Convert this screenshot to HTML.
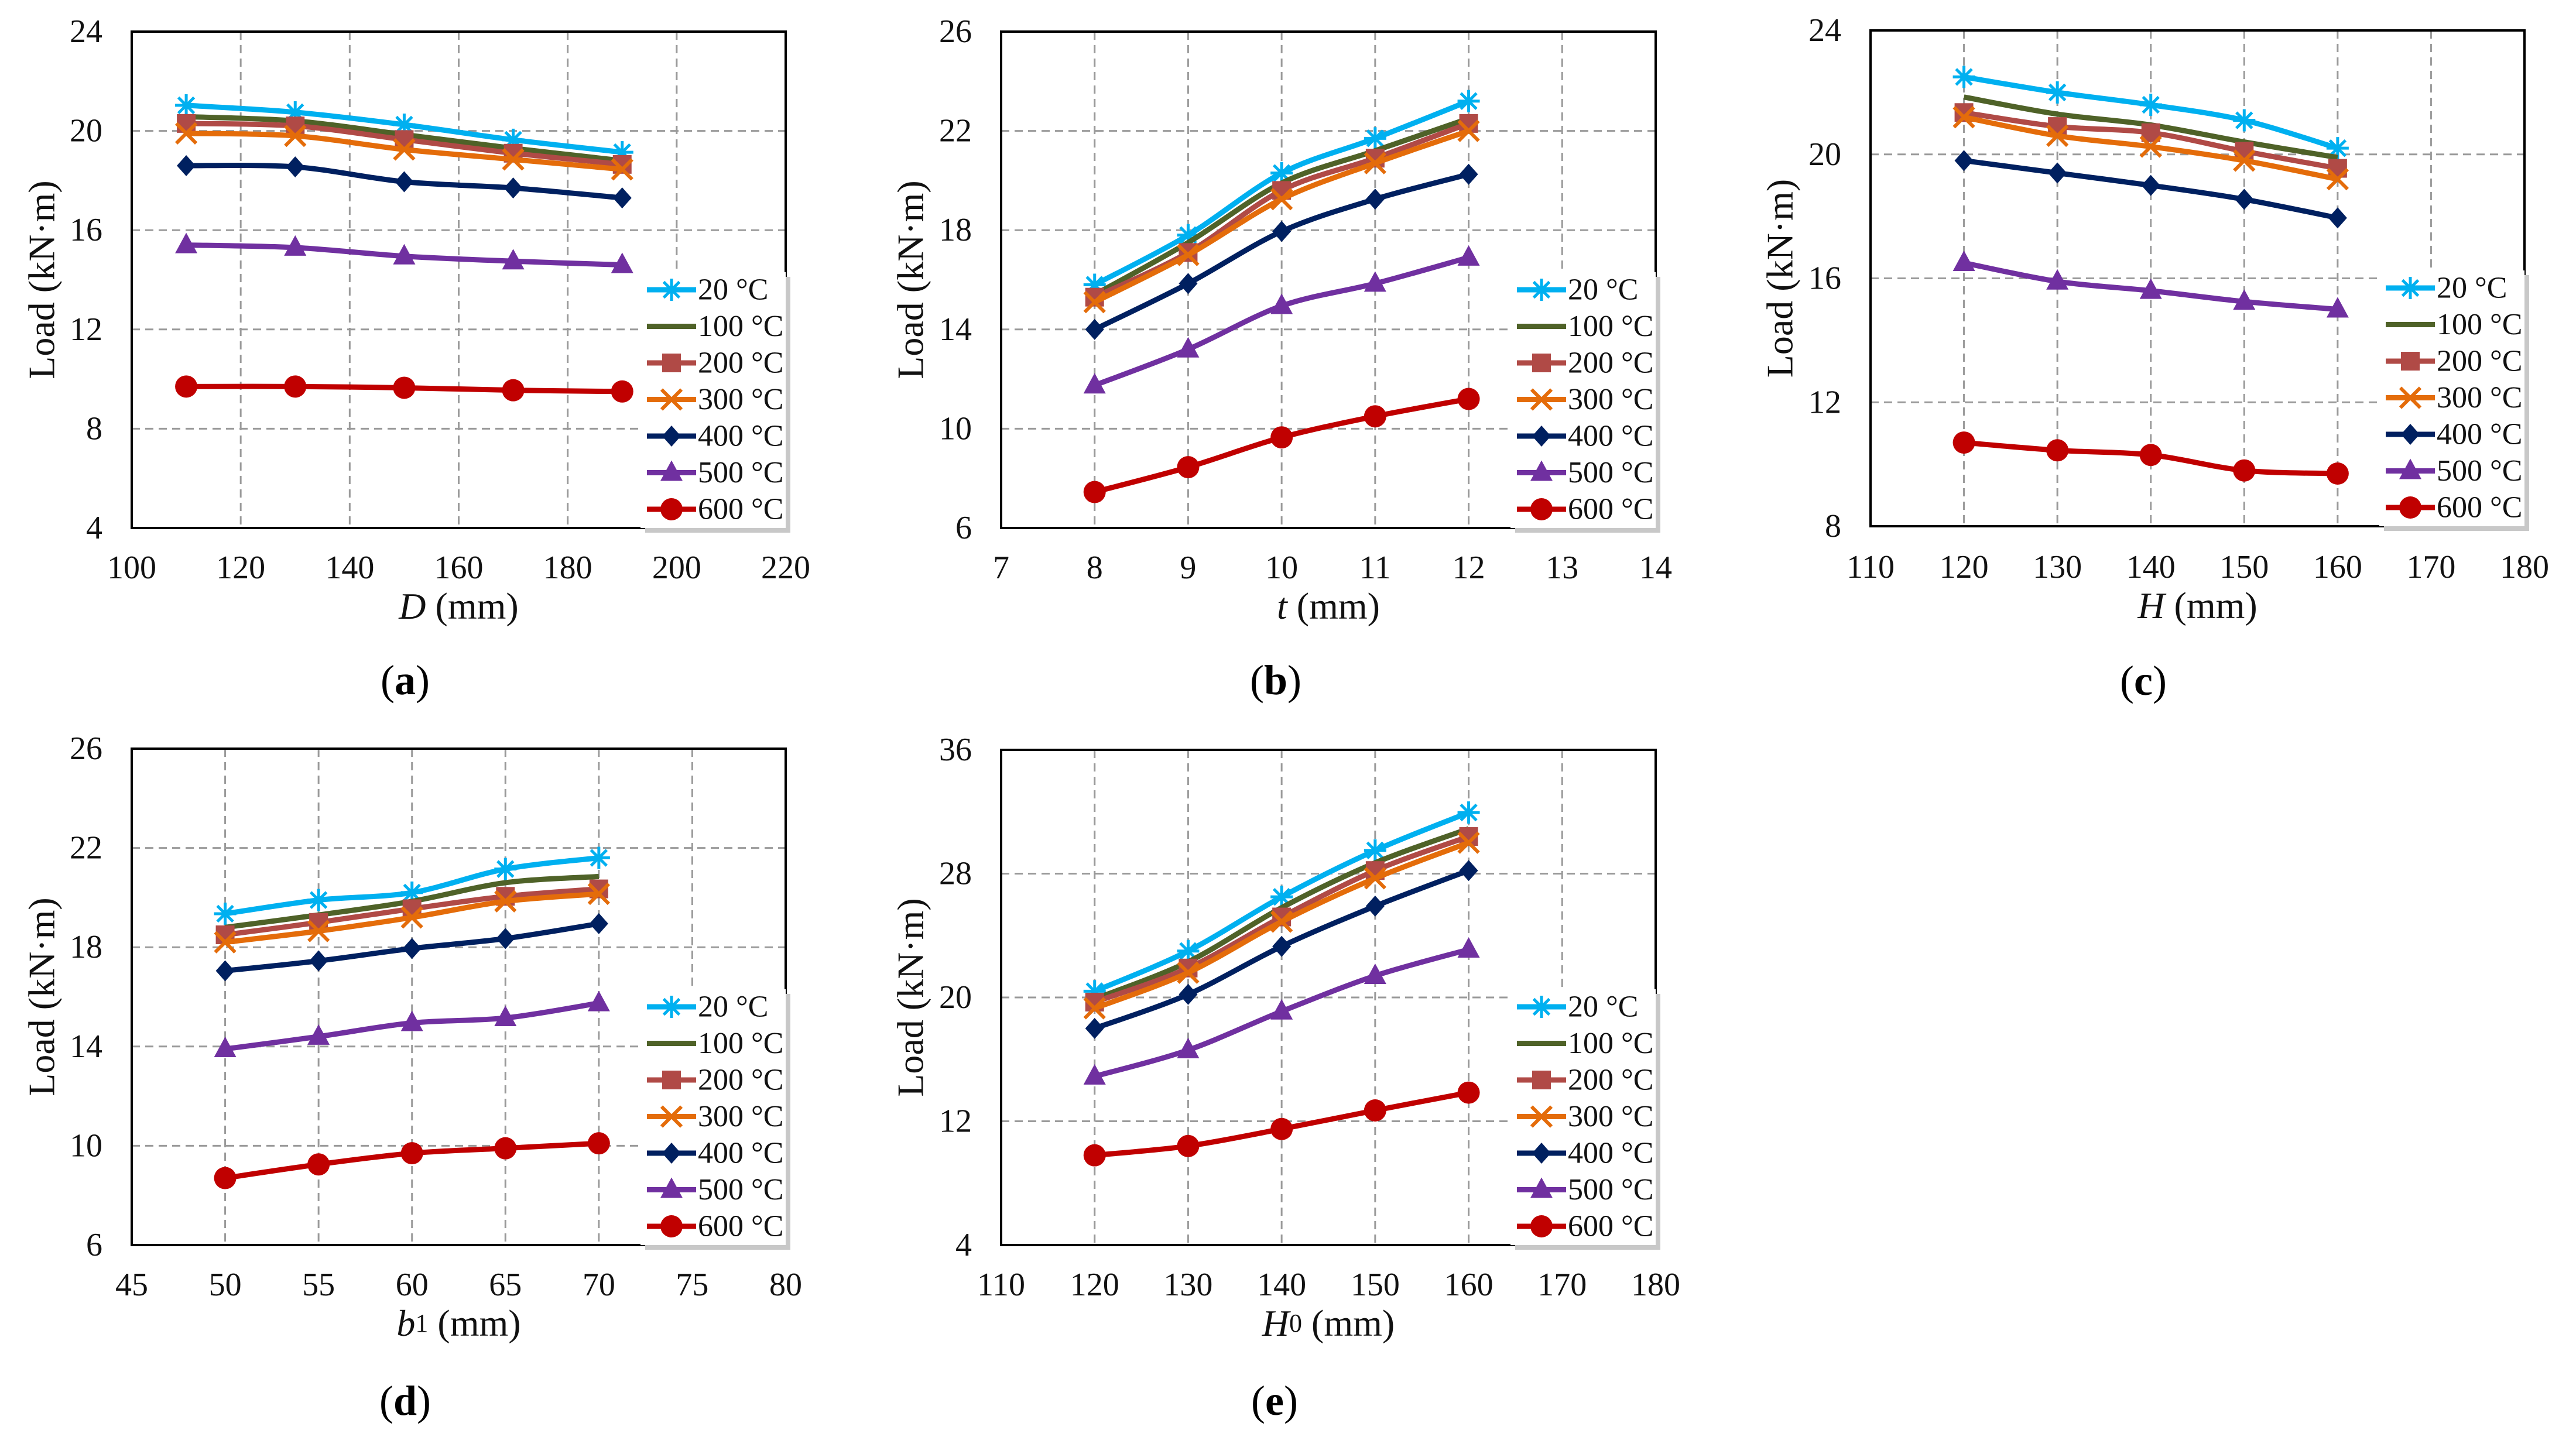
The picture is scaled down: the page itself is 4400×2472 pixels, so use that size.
<!DOCTYPE html>
<html><head><meta charset="utf-8"><style>
html,body{margin:0;padding:0;background:#fff}
svg{display:block;font-family:"Liberation Serif",serif}
</style></head><body>
<svg id="fig" width="4400" height="2472" viewBox="0 0 4400 2472" xmlns="http://www.w3.org/2000/svg"></svg>
<script>
const seriesNames = ["20 °C","100 °C","200 °C","300 °C","400 °C","500 °C","600 °C"];
const seriesColors = ["#00B0F0","#4F6228","#B04A46","#E46C0A","#002060","#7030A0","#C00000"];
const seriesMarkers = ["star","none","square","x","diamond","triangle","circle"];

const aX = [110,130,150,170,190];
const aTicksX = [100,120,140,160,180,200,220];
const aTicksY = [4,8,12,16,20,24];
const a20 = [21.03,20.75,20.25,19.64,19.14];
const a100 = [20.57,20.4,19.85,19.3,18.8];
const a200 = [20.3,20.2,19.65,19.1,18.65];
const a300 = [19.9,19.8,19.25,18.85,18.45];
const a400 = [18.6,18.55,17.95,17.7,17.3];
const a500 = [15.4,15.3,14.95,14.75,14.6];
const a600 = [9.7,9.7,9.65,9.55,9.5];

const bX = [8,9,10,11,12];
const bTicksX = [7,8,9,10,11,12,13,14];
const bTicksY = [6,10,14,18,22,26];
const b20 = [15.8,17.8,20.3,21.7,23.2];
const b100 = [15.4,17.5,19.9,21.2,22.5];
const b200 = [15.3,17.1,19.6,20.9,22.3];
const b300 = [15.1,17.0,19.25,20.7,22.0];
const b400 = [14.0,15.85,17.95,19.25,20.25];
const b500 = [11.75,13.2,14.95,15.85,16.9];
const b600 = [7.45,8.45,9.65,10.5,11.2];

const cX = [120,130,140,150,160];
const cTicksX = [110,120,130,140,150,160,170,180];
const cTicksY = [8,12,16,20,24];
const c20 = [22.5,22.0,21.6,21.1,20.2];
const c100 = [21.85,21.3,20.95,20.4,19.9];
const c200 = [21.35,20.9,20.7,20.1,19.55];
const c300 = [21.2,20.6,20.25,19.8,19.2];
const c400 = [19.8,19.4,19.0,18.55,17.95];
const c500 = [16.5,15.9,15.6,15.25,15.0];
const c600 = [10.7,10.45,10.3,9.8,9.7];

const dX = [50,55,60,65,70];
const dTicksX = [45,50,55,60,65,70,75,80];
const dTicksY = [6,10,14,18,22,26];
const d20 = [19.35,19.9,20.2,21.15,21.6];
const d100 = [18.8,19.3,19.85,20.6,20.85];
const d200 = [18.5,19.0,19.55,20.05,20.35];
const d300 = [18.2,18.65,19.2,19.85,20.15];
const d400 = [17.05,17.45,17.95,18.35,18.95];
const d500 = [13.9,14.4,14.95,15.15,15.75];
const d600 = [8.7,9.25,9.7,9.9,10.1];

const eX = [120,130,140,150,160];
const eTicksX = [110,120,130,140,150,160,170,180];
const eTicksY = [4,12,20,28,36];
const e20 = [20.4,23.0,26.5,29.5,31.95];
const e100 = [19.9,22.3,25.8,28.7,30.9];
const e200 = [19.7,21.9,25.2,28.2,30.4];
const e300 = [19.3,21.6,24.9,27.7,30.0];
const e400 = [18.0,20.2,23.3,25.9,28.2];
const e500 = [14.9,16.6,19.1,21.4,23.1];
const e600 = [9.8,10.4,11.5,12.7,13.85];

const NS="http://www.w3.org/2000/svg";
const svg=document.getElementById('fig');
function mk(tag,attrs,parent){const e=document.createElementNS(NS,tag);for(const k in attrs)e.setAttribute(k,attrs[k]);(parent||svg).appendChild(e);return e;}

function marker(g,type,x,y,col){
  let m=null;
  if(type==="star"){
    m=mk('g',{stroke:col,'stroke-width':5},g);
    for(let i=0;i<4;i++){const a=i*Math.PI/4,r=19;mk('line',{x1:x-r*Math.cos(a),y1:y-r*Math.sin(a),x2:x+r*Math.cos(a),y2:y+r*Math.sin(a)},m);}
  }else if(type==="square"){m=mk('rect',{x:x-16,y:y-16,width:32,height:32,fill:col},g);}
  else if(type==="x"){m=mk('g',{stroke:col,'stroke-width':6},g);
    mk('line',{x1:x-17,y1:y-17,x2:x+17,y2:y+17},m);mk('line',{x1:x-17,y1:y+17,x2:x+17,y2:y-17},m);}
  else if(type==="diamond"){m=mk('polygon',{points:`${x},${y-18} ${x+16},${y} ${x},${y+18} ${x-16},${y}`,fill:col},g);}
  else if(type==="triangle"){m=mk('polygon',{points:`${x},${y-21} ${x+19},${y+14} ${x-19},${y+14}`,fill:col},g);}
  else if(type==="circle"){m=mk('circle',{cx:x,cy:y,r:19,fill:col},g);}
  if(m){
  }
}

function smoothPath(pts){
  let d=`M${pts[0][0]},${pts[0][1]}`;
  for(let i=0;i<pts.length-1;i++){
    const p0=pts[Math.max(0,i-1)],p1=pts[i],p2=pts[i+1],p3=pts[Math.min(pts.length-1,i+2)];
    const t=0.16;
    d+=` C${p1[0]+(p2[0]-p0[0])*t},${p1[1]+(p2[1]-p0[1])*t} ${p2[0]-(p3[0]-p1[0])*t},${p2[1]-(p3[1]-p1[1])*t} ${p2[0]},${p2[1]}`;
  }
  return d;
}

function panel(id,L,R,T,B,xs,ticksX,ticksY,series,xTitle,xSub,caption,capX,tickY,titleY,capY,labelX){
  const g=mk('g',{});
  
  
  const x0=ticksX[0],x1=ticksX[ticksX.length-1],y0=ticksY[0],y1=ticksY[ticksY.length-1];
  const sx=v=>L+(v-x0)/(x1-x0)*(R-L);
  const sy=v=>B-(v-y0)/(y1-y0)*(B-T);
  ticksX.forEach((v,i)=>{
    if(i>0&&i<ticksX.length-1){const l=mk('line',{x1:sx(v),x2:sx(v),y1:T,y2:B,stroke:'#9a9a9a','stroke-width':3,'stroke-dasharray':'14,9'},g);
    
    }
    const t=mk('text',{x:sx(v),y:tickY,'font-size':56,'text-anchor':'middle','dominant-baseline':'central',fill:'#111'},g);t.textContent=v;
    
    
  });
  ticksY.forEach((v,i)=>{
    if(i>0&&i<ticksY.length-1){const l=mk('line',{x1:L,x2:R,y1:sy(v),y2:sy(v),stroke:'#9a9a9a','stroke-width':3,'stroke-dasharray':'14,9'},g);
    
    }
    const t=mk('text',{x:L-50,y:sy(v),'font-size':56,'text-anchor':'end','dominant-baseline':'central',fill:'#111'},g);t.textContent=v;
    
    
  });
  const fr=mk('rect',{x:L,y:T,width:R-L,height:B-T,fill:'none',stroke:'#000','stroke-width':4},g);
  
  
  series.forEach((ys,si)=>{
    const sg=mk('g',{},g);
    
    
    const pts=xs.map((xv,i)=>[sx(xv),sy(ys[i])]);
    const p=mk('path',{d:smoothPath(pts),fill:'none',stroke:seriesColors[si],'stroke-width':9,'stroke-linejoin':'round'},sg);
    
    
    pts.forEach(q=>marker(sg,seriesMarkers[si],q[0],q[1],seriesColors[si]));
  });
  const lg=mk('g',{},g);
  
  
  const lw=248,lh=437;
  const lx=R-lw,ly=B-lh;
  mk('rect',{x:lx+8,y:ly+8,width:lw,height:lh,fill:'#c8c8c8'},lg);
  mk('rect',{x:lx,y:ly,width:lw,height:lh,fill:'#fff'},lg);
  seriesNames.forEach((n,i)=>{
    const ey=ly+30+i*62.5;
    const eg=mk('g',{},lg);
    
    
    mk('line',{x1:lx+11,x2:lx+95,y1:ey,y2:ey,stroke:seriesColors[i],'stroke-width':9},eg);
    marker(eg,seriesMarkers[i],lx+53,ey,seriesColors[i]);
    const t=mk('text',{x:lx+98,y:ey,'font-size':52,'dominant-baseline':'central',fill:'#111'},eg);t.textContent=n;
  });
  const yt=mk('text',{x:labelX,y:(T+B)/2,'font-size':64,'text-anchor':'middle','dominant-baseline':'central',transform:`rotate(-90 ${labelX} ${(T+B)/2})`,fill:'#111'},g);
  yt.textContent='Load (kN·m)';
  
  
  const xt=mk('text',{x:(L+R)/2,y:titleY,'font-size':64,'text-anchor':'middle','dominant-baseline':'central',fill:'#111'},g);
  xt.innerHTML=`<tspan font-style="italic">${xTitle}</tspan>${xSub?`<tspan font-size="44">${xSub}</tspan>`:''} (mm)`;
  
  
  const ct=mk('text',{x:capX,y:capY,'font-size':72,'text-anchor':'middle','dominant-baseline':'central',fill:'#000'},g);
  ct.innerHTML=`(<tspan font-weight="bold">${caption}</tspan>)`;
  
  
}

panel('a',225,1342,54,902,aX,aTicksX,aTicksY,[a20,a100,a200,a300,a400,a500,a600],'D','','a',692,970,1035,1162,71);
panel('b',1710,2828,54,902,bX,bTicksX,bTicksY,[b20,b100,b200,b300,b400,b500,b600],'t','','b',2179,970,1035,1162,1555);
panel('c',3195,4312,52,899,cX,cTicksX,cTicksY,[c20,c100,c200,c300,c400,c500,c600],'H','','c',3661,969,1034,1163,3040);
panel('d',225,1342,1279,2127,dX,dTicksX,dTicksY,[d20,d100,d200,d300,d400,d500,d600],'b','1','d',692,2195,2260,2393,71);
panel('e',1710,2828,1281,2127,eX,eTicksX,eTicksY,[e20,e100,e200,e300,e400,e500,e600],'H','0','e',2177,2195,2260,2393,1555);
</script>
</body></html>
